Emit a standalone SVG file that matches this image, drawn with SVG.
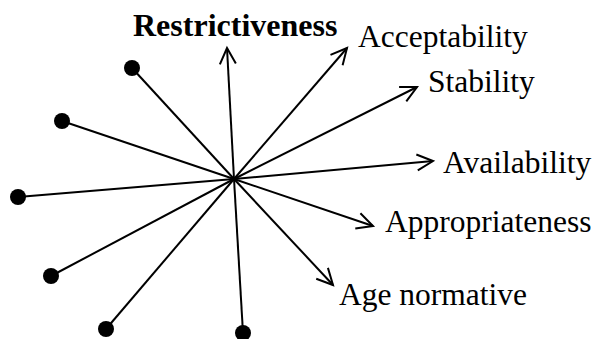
<svg xmlns="http://www.w3.org/2000/svg" width="598" height="339" viewBox="0 0 598 339">
<style>
.l{stroke:#000;stroke-width:2;fill:none}
.t{font-family:"Liberation Serif","Times New Roman",serif;font-size:31.5px;fill:#000}
.b{font-weight:bold;font-size:32px}
.d{fill:#000}
</style>
<defs>
<marker id="arr" markerUnits="userSpaceOnUse" markerWidth="40" markerHeight="40" refX="0" refY="0" viewBox="-20 -20 40 40" orient="auto" overflow="visible">
<path d="M-16,-8 L0,0 L-16,8" fill="none" stroke="#000" stroke-width="2"/>
</marker>
</defs>
<rect width="598" height="339" fill="#fff"/>
<g id="connectors">
<line class="l" x1="234" y1="179" x2="227" y2="48" marker-end="url(#arr)"/>
<line class="l" x1="234" y1="179" x2="347" y2="48" marker-end="url(#arr)"/>
<line class="l" x1="234" y1="179" x2="417" y2="87" marker-end="url(#arr)"/>
<line class="l" x1="234" y1="179" x2="433" y2="161" marker-end="url(#arr)"/>
<line class="l" x1="234" y1="179" x2="373" y2="226" marker-end="url(#arr)"/>
<line class="l" x1="234" y1="179" x2="333" y2="285" marker-end="url(#arr)"/>
<line class="l" x1="234" y1="179" x2="132" y2="68"/>
<line class="l" x1="234" y1="179" x2="62" y2="121"/>
<line class="l" x1="234" y1="179" x2="18" y2="197"/>
<line class="l" x1="234" y1="179" x2="51" y2="276"/>
<line class="l" x1="234" y1="179" x2="106" y2="329"/>
<line class="l" x1="234" y1="179" x2="243" y2="333"/>
</g>
<g id="dot1"><circle class="d" cx="132" cy="68" r="8"/></g>
<g id="dot2"><circle class="d" cx="62" cy="121" r="8"/></g>
<g id="dot3"><circle class="d" cx="18" cy="197" r="8"/></g>
<g id="dot4"><circle class="d" cx="51" cy="276" r="8"/></g>
<g id="dot5"><circle class="d" cx="106" cy="329" r="8"/></g>
<g id="dot6"><circle class="d" cx="243" cy="333" r="8"/></g>
<g id="restrictiveness"><text class="t b" x="133" y="36">Restrictiveness</text></g>
<g id="acceptability"><text class="t" x="358" y="47">Acceptability</text></g>
<g id="stability"><text class="t" x="428" y="92">Stability</text></g>
<g id="availability"><text class="t" x="443" y="173">Availability</text></g>
<g id="appropriateness"><text class="t" x="385" y="232">Appropriateness</text></g>
<g id="age"><text class="t" x="339" y="305">Age normative</text></g>
</svg>
